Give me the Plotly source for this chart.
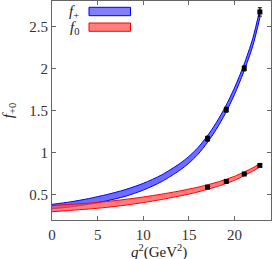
import plotly.graph_objects as go

# Band grid (q^2 in GeV^2) and band edges
q2_band = [0, 2, 4, 6, 8, 10, 12, 14, 15, 16, 17, 18, 19, 20, 21, 22, 22.8]
fplus_center = [0.36, 0.385, 0.42, 0.465, 0.52, 0.595, 0.695, 0.83, 0.915, 1.02, 1.155, 1.315, 1.505, 1.73, 1.995, 2.31, 2.66]
fplus_halfw = [0.026, 0.03, 0.034, 0.037, 0.04, 0.04, 0.04, 0.04, 0.04, 0.04, 0.04, 0.04, 0.04, 0.04, 0.04, 0.045, 0.05]
fzero_center = [0.335, 0.35, 0.365, 0.385, 0.41, 0.44, 0.475, 0.515, 0.537, 0.562, 0.59, 0.62, 0.655, 0.695, 0.745, 0.80, 0.85]
fzero_halfw = [0.037, 0.036, 0.035, 0.035, 0.034, 0.033, 0.032, 0.03, 0.03, 0.028, 0.027, 0.026, 0.025, 0.024, 0.022, 0.02, 0.02]

# Lattice data points
q2_pts = [17.05, 19.1, 21.07, 22.78]
fplus_pts = [1.166, 1.51, 2.0, 2.67]
fplus_err = [0.03, 0.03, 0.03, 0.05]
fzero_pts = [0.59, 0.658, 0.746, 0.848]
fzero_err = [0.008, 0.008, 0.008, 0.01]

x_ticks = [0, 5, 10, 15, 20]
y_ticks = [0.5, 1, 1.5, 2, 2.5]

FONT = "Liberation Serif, DejaVu Serif, serif"

fig = go.Figure()

def add_band(center, halfw, line_col, fill_col):
    lower = [c - h for c, h in zip(center, halfw)]
    upper = [c + h for c, h in zip(center, halfw)]
    fig.add_trace(go.Scatter(x=q2_band, y=lower, mode="lines",
                             line=dict(color=line_col, width=1, shape="spline", smoothing=0.8),
                             showlegend=False, hoverinfo="skip"))
    fig.add_trace(go.Scatter(x=q2_band, y=upper, mode="lines", fill="tonexty",
                             fillcolor=fill_col,
                             line=dict(color=line_col, width=1, shape="spline", smoothing=0.8),
                             showlegend=False, hoverinfo="skip"))

add_band(fplus_center, fplus_halfw, "rgb(0,0,255)", "rgba(60,60,255,0.75)")
add_band(fzero_center, fzero_halfw, "rgb(255,0,0)", "rgba(255,80,80,0.75)")

for ys, es in [(fplus_pts, fplus_err), (fzero_pts, fzero_err)]:
    fig.add_trace(go.Scatter(x=q2_pts, y=ys, mode="markers",
                             marker=dict(symbol="square", size=5, color="black"),
                             error_y=dict(type="data", array=es, color="black",
                                          thickness=1, width=2),
                             showlegend=False))

# Legend drawn by hand: label to the left of swatch
fig.add_shape(type="rect", xref="paper", yref="paper",
              x0=(89 - 52) / 219, x1=(130.5 - 52) / 219,
              y0=(220 - 15.7) / 219, y1=(220 - 7.3) / 219,
              fillcolor="rgba(0,0,255,0.5)", line=dict(color="blue", width=1))
fig.add_shape(type="rect", xref="paper", yref="paper",
              x0=(89 - 52) / 219, x1=(130.5 - 52) / 219,
              y0=(220 - 31.3) / 219, y1=(220 - 23) / 219,
              fillcolor="rgba(255,0,0,0.5)", line=dict(color="red", width=1))
fig.add_annotation(text="<i>f</i><sub>+</sub>", xref="paper", yref="paper",
                   x=(81 - 52) / 219, y=(220 - 12) / 219, xanchor="right", yanchor="middle",
                   showarrow=False, font=dict(family=FONT, size=15, color="#222"))
fig.add_annotation(text="<i>f</i><sub>0</sub>", xref="paper", yref="paper",
                   x=(81 - 52) / 219, y=(220 - 28) / 219, xanchor="right", yanchor="middle",
                   showarrow=False, font=dict(family=FONT, size=15, color="#222"))
# x-axis title as an annotation so it can sit a little lower
fig.add_annotation(text="<i>q</i><sup>2</sup>(GeV<sup>2</sup>)", xref="paper", yref="paper",
                   x=0.49, y=(220 - 251) / 219, xanchor="center", yanchor="middle",
                   showarrow=False, font=dict(family=FONT, size=15, color="#222"))

axis_common = dict(showline=True, linecolor="#666", linewidth=1, mirror="ticks",
                   ticks="inside", ticklen=4, tickcolor="#666", showgrid=False,
                   zeroline=False, automargin=False,
                   tickfont=dict(family=FONT, size=15, color="#333"))

fig.update_xaxes(range=[0, 24], tickvals=x_ticks, ticktext=[str(v) for v in x_ticks],
                 ticklabelstandoff=1, **axis_common)
fig.update_yaxes(range=[0.2, 2.8], tickvals=y_ticks, ticktext=["0.5", "1", "1.5", "2", "2.5"],
                 title=dict(text="<i>f</i><sub>+0</sub>",
                            font=dict(family=FONT, size=15, color="#222")),
                 **axis_common)

fig.update_layout(width=272, height=259, margin=dict(l=52, r=1, t=1, b=39),
                  paper_bgcolor="white", plot_bgcolor="white", showlegend=False,
                  font=dict(family=FONT))

fig.write_html("out.html", config={"displayModeBar": False, "staticPlot": True},
               post_script="document.body.style.margin='0';document.body.style.overflow='hidden';")
